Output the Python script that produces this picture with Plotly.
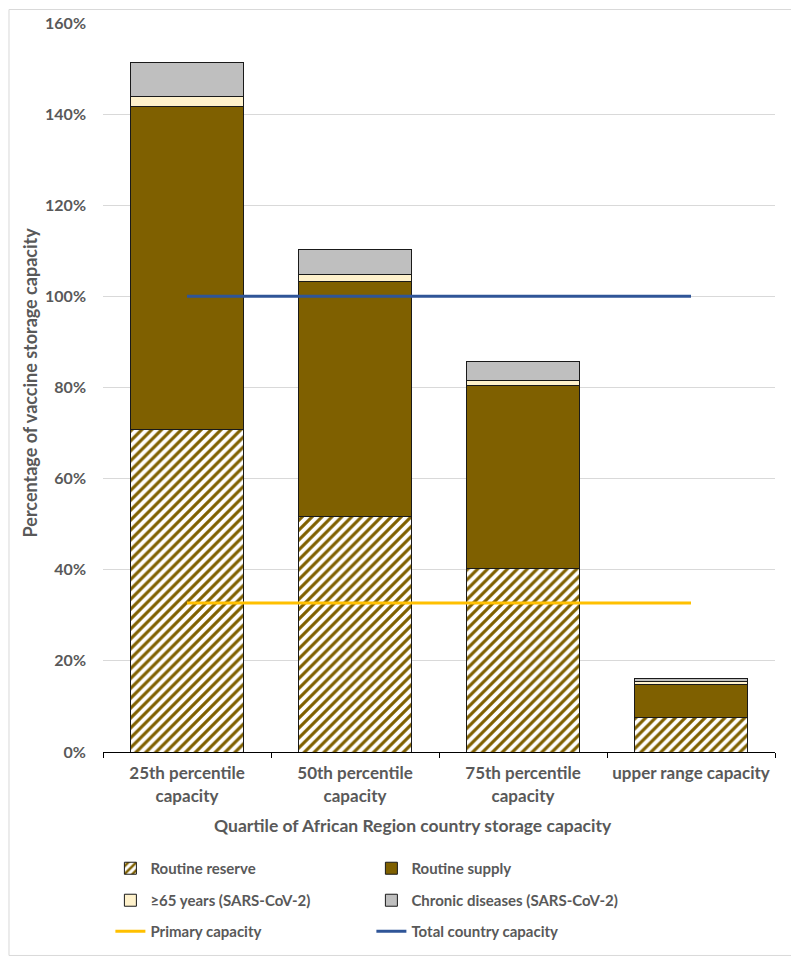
import plotly.graph_objects as go

categories = ["25th percentile<br>capacity", "50th percentile<br>capacity",
              "75th percentile<br>capacity", "upper range capacity"]
routine_reserve = [70.8, 51.6, 40.2, 7.5]
routine_supply = [70.8, 51.6, 40.3, 7.4]
over65 = [2.2, 1.6, 1.1, 0.5]
chronic = [7.5, 5.4, 4.2, 0.8]
primary_capacity = [32.7, 32.7, 32.7, 32.7]
total_capacity = [100, 100, 100, 100]

TXT = "#595959"
FONT = "Lato"
BROWN = "#7F6000"

fig = go.Figure()
line_style = dict(color="#1a1a1a", width=1)

fig.add_trace(go.Bar(x=categories, y=routine_reserve, name="Routine reserve",
                     marker=dict(color=BROWN, line=line_style,
                                 pattern=dict(shape="/", bgcolor="white", fgcolor=BROWN,
                                              size=7, solidity=0.45, fillmode="replace")),
                     legend="legend"))
fig.add_trace(go.Bar(x=categories, y=routine_supply, name="Routine supply",
                     marker=dict(color=BROWN, line=line_style), legend="legend"))
fig.add_trace(go.Bar(x=categories, y=over65, name="≥65 years (SARS-CoV-2)",
                     marker=dict(color="#FFF2CC", line=line_style), legend="legend2"))
fig.add_trace(go.Bar(x=categories, y=chronic, name="Chronic diseases (SARS-CoV-2)",
                     marker=dict(color="#BFBFBF", line=line_style), legend="legend2"))
fig.add_trace(go.Scatter(x=categories, y=primary_capacity, name="Primary capacity",
                         mode="lines", line=dict(color="#FFC000", width=3), legend="legend3"))
fig.add_trace(go.Scatter(x=categories, y=total_capacity, name="Total country capacity",
                         mode="lines", line=dict(color="#2F5597", width=3), legend="legend3"))

legend_common = dict(orientation="h", x=0.011, xanchor="left", yanchor="middle",
                     entrywidth=216, entrywidthmode="pixels", bgcolor="rgba(0,0,0,0)",
                     font=dict(family=FONT, size=15, color=TXT, weight="bold"),
                     traceorder="normal")

fig.update_layout(
    width=791, height=951,
    margin=dict(l=95, r=24, t=15, b=207, autoexpand=False),
    plot_bgcolor="white", paper_bgcolor="white",
    barmode="stack", bargap=0.333,
    font=dict(family=FONT, size=15, color=TXT, weight="bold"),
    legend=dict(y=-0.1598, **legend_common),
    legend2=dict(y=-0.2037, **legend_common),
    legend3=dict(y=-0.2462, **legend_common),
    xaxis=dict(tickson="boundaries", ticks="outside", ticklen=5, tickcolor="black",
               showline=True, linecolor="black", linewidth=1, ticklabelstandoff=6,
               tickfont=dict(family=FONT, size=17, color=TXT, weight="bold")),
    yaxis=dict(range=[0, 160], dtick=20, ticksuffix="%", showgrid=True,
               gridcolor="#D9D9D9", gridwidth=1, zeroline=False, showline=False,
               ticks="", ticklabelstandoff=16,
               tickfont=dict(family=FONT, size=16, color=TXT, weight="bold")),
    annotations=[
        dict(text="Quartile of African Region country storage capacity",
             xref="paper", yref="paper", x=0.4606, y=-0.1008,
             xanchor="center", yanchor="middle", showarrow=False,
             font=dict(family=FONT, size=17.5, color=TXT, weight="bold")),
        dict(text="Percentage of vaccine storage capacity", textangle=-90,
             xref="paper", yref="paper", x=-0.1086, y=0.507,
             xanchor="center", yanchor="middle", showarrow=False,
             font=dict(family=FONT, size=18, color=TXT, weight="bold")),
    ],
    shapes=[dict(type="rect", xref="paper", yref="paper",
                 x0=-0.1399, x1=1.0298, y0=-0.2791, y1=1.0185,
                 line=dict(color="#D9D9D9", width=1), fillcolor="rgba(0,0,0,0)", layer="below")],
)

fig.write_html("out.html")
